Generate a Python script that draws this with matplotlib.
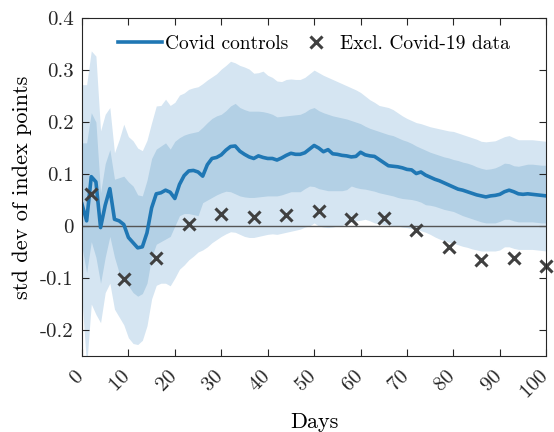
import numpy as np
import matplotlib
matplotlib.use('Agg')
import matplotlib.pyplot as plt
import matplotlib.transforms as mtransforms

plt.rcParams['font.family'] = ['cmr10', 'DejaVu Serif']
plt.rcParams['axes.formatter.use_mathtext'] = True
plt.rcParams['axes.unicode_minus'] = False

# ---- data ----
days = np.arange(0, 101)

mid = [0.042, 0.010, 0.095, 0.085, -0.003, 0.040, 0.072, 0.013, 0.010, 0.003,
       -0.022, -0.032, -0.042, -0.040, -0.013, 0.035, 0.062, 0.064, 0.069, 0.065,
       0.053, 0.080, 0.097, 0.106, 0.107, 0.104, 0.096, 0.118, 0.130, 0.132,
       0.137, 0.146, 0.153, 0.154, 0.144, 0.138, 0.133, 0.130, 0.135, 0.132,
       0.130, 0.130, 0.127, 0.131, 0.136, 0.140, 0.138, 0.138, 0.141, 0.148,
       0.155, 0.150, 0.143, 0.147, 0.139, 0.138, 0.136, 0.135, 0.133, 0.134,
       0.142, 0.137, 0.135, 0.134, 0.128, 0.122, 0.116, 0.115, 0.114, 0.112,
       0.109, 0.108, 0.101, 0.104, 0.098, 0.094, 0.090, 0.087, 0.083, 0.079,
       0.075, 0.071, 0.069, 0.066, 0.063, 0.060, 0.058, 0.056, 0.058, 0.059,
       0.061, 0.066, 0.069, 0.066, 0.062, 0.061, 0.062, 0.061, 0.060, 0.059,
       0.058]

upper90 = [0.272, 0.272, 0.337, 0.327, 0.183, 0.215, 0.228, 0.141, 0.166, 0.196,
           0.172, 0.164, 0.150, 0.145, 0.165, 0.199, 0.231, 0.232, 0.244, 0.232,
           0.238, 0.252, 0.256, 0.263, 0.266, 0.268, 0.274, 0.281, 0.287, 0.293,
           0.302, 0.309, 0.317, 0.314, 0.309, 0.306, 0.302, 0.294, 0.295, 0.298,
           0.290, 0.286, 0.279, 0.278, 0.282, 0.283, 0.282, 0.282, 0.286, 0.293,
           0.300, 0.295, 0.290, 0.286, 0.282, 0.278, 0.274, 0.270, 0.266, 0.262,
           0.257, 0.250, 0.243, 0.238, 0.232, 0.230, 0.228, 0.224, 0.218, 0.212,
           0.207, 0.203, 0.199, 0.197, 0.194, 0.191, 0.189, 0.187, 0.185, 0.183,
           0.182, 0.179, 0.176, 0.173, 0.170, 0.167, 0.163, 0.162, 0.163, 0.164,
           0.168, 0.172, 0.174, 0.170, 0.166, 0.166, 0.166, 0.166, 0.165, 0.164,
           0.163]

upper68 = [0.160, 0.160, 0.218, 0.200, 0.064, 0.120, 0.147, 0.090, 0.093, 0.096,
           0.085, 0.077, 0.060, 0.058, 0.088, 0.130, 0.148, 0.154, 0.160, 0.148,
           0.163, 0.170, 0.175, 0.178, 0.180, 0.182, 0.190, 0.199, 0.207, 0.212,
           0.215, 0.222, 0.231, 0.236, 0.228, 0.224, 0.221, 0.221, 0.221, 0.220,
           0.218, 0.215, 0.210, 0.211, 0.212, 0.213, 0.214, 0.215, 0.219, 0.225,
           0.228, 0.222, 0.218, 0.215, 0.212, 0.210, 0.208, 0.206, 0.203, 0.200,
           0.197, 0.192, 0.188, 0.185, 0.182, 0.179, 0.176, 0.174, 0.170, 0.166,
           0.163, 0.159, 0.154, 0.150, 0.146, 0.142, 0.139, 0.136, 0.133, 0.131,
           0.128, 0.126, 0.123, 0.121, 0.118, 0.114, 0.111, 0.109, 0.110, 0.112,
           0.116, 0.121, 0.120, 0.116, 0.115, 0.117, 0.119, 0.119, 0.118, 0.117,
           0.117]

lower68 = [-0.040, -0.090, -0.030, -0.060, -0.110, -0.060, -0.020, -0.060, -0.090, -0.100,
           -0.115, -0.128, -0.135, -0.130, -0.110, -0.060, -0.035, -0.030, -0.025, -0.020,
           0.000, 0.020, 0.024, 0.024, 0.022, 0.020, 0.045, 0.050, 0.055, 0.060,
           0.064, 0.067, 0.066, 0.062, 0.058, 0.056, 0.055, 0.055, 0.056, 0.057,
           0.058, 0.058, 0.058, 0.060, 0.063, 0.066, 0.066, 0.066, 0.072, 0.077,
           0.076, 0.072, 0.070, 0.068, 0.068, 0.068, 0.068, 0.070, 0.077, 0.074,
           0.072, 0.071, 0.069, 0.067, 0.064, 0.062, 0.060, 0.058, 0.055, 0.053,
           0.052, 0.051, 0.049, 0.046, 0.041, 0.040, 0.038, 0.035, 0.032, 0.030,
           0.028, 0.024, 0.020, 0.017, 0.014, 0.011, 0.008, 0.006, 0.006, 0.006,
           0.009, 0.013, 0.013, 0.010, 0.008, 0.008, 0.008, 0.008, 0.007, 0.006,
           0.006]

lower90 = [-0.140, -0.270, -0.150, -0.170, -0.186, -0.128, -0.110, -0.160, -0.175, -0.190,
           -0.215, -0.226, -0.228, -0.220, -0.192, -0.140, -0.114, -0.110, -0.110, -0.115,
           -0.100, -0.083, -0.075, -0.065, -0.058, -0.050, -0.046, -0.040, -0.032, -0.026,
           -0.020, -0.015, -0.011, -0.012, -0.016, -0.020, -0.022, -0.022, -0.020, -0.018,
           -0.016, -0.015, -0.016, -0.014, -0.012, -0.010, -0.008, -0.006, -0.002, 0.000,
           0.006, 0.000, -0.002, -0.003, -0.002, 0.000, 0.001, 0.004, 0.008, 0.010,
           0.011, 0.013, 0.010, 0.006, 0.004, 0.003, 0.002, 0.001, 0.000, -0.002,
           -0.003, -0.005, -0.006, -0.009, -0.012, -0.016, -0.021, -0.025, -0.028, -0.031,
           -0.033, -0.036, -0.039, -0.041, -0.044, -0.046, -0.048, -0.048, -0.048, -0.048,
           -0.046, -0.040, -0.040, -0.043, -0.045, -0.045, -0.045, -0.045, -0.046, -0.047,
           -0.048]

excl_days = [2, 9, 16, 23, 30, 37, 44, 51, 58, 65, 72, 79, 86, 93, 100]
excl_vals = [0.062, -0.102, -0.062, 0.003, 0.024, 0.018, 0.022, 0.029, 0.014, 0.016,
             -0.008, -0.040, -0.066, -0.061, -0.077]

xticks = list(range(0, 101, 10))
yticks = [-0.2, -0.1, 0, 0.1, 0.2, 0.3, 0.4]
ytick_labels = ['-0.2', '-0.1', '0', '0.1', '0.2', '0.3', '0.4']

# ---- plot ----
fig = plt.figure(figsize=(5.54, 4.32), dpi=100)
ax = fig.add_axes([0.148, 0.176, 0.838, 0.782])
fs = 15

ax.fill_between(days, lower90, upper90, color='#d5e5f2', lw=0)
ax.fill_between(days, lower68, upper68, color='#b3d0e5', lw=0)
ax.axhline(0, color='#555555', lw=1.0)
ax.plot(days, mid, color='#1f77b4', lw=2.6, label='Covid controls')
ax.plot(excl_days, excl_vals, ls='none', marker='x', ms=9, mew=2.2,
        color='#404040', label='Excl. Covid-19 data', clip_on=False)

ax.set_xlim(0, 100)
ax.set_ylim(-0.25, 0.4)
ax.set_xticks(xticks)
ax.set_yticks(yticks)
ax.set_yticklabels(ytick_labels)
ax.tick_params(direction='in', top=True, right=True, length=5, width=0.8,
               labelsize=fs, colors='#262626')
ax.tick_params(axis='x', pad=8)
ax.tick_params(axis='y', pad=6)
offset = mtransforms.ScaledTranslation(6/100, 0, fig.dpi_scale_trans)
for lab in ax.get_xticklabels():
    lab.set_rotation(45)
    lab.set_ha('right')
    lab.set_transform(lab.get_transform() + offset)
for sp in ax.spines.values():
    sp.set_color('#262626')
    sp.set_linewidth(0.8)

ax.set_xlabel('Days', fontsize=16, labelpad=7)
ax.set_ylabel('std dev of index points', fontsize=16, labelpad=6)
ax.legend(loc='upper center', ncol=2, frameon=False, fontsize=14,
          handlelength=2.25, handletextpad=0.15, columnspacing=0.3,
          borderaxespad=0.45)

fig.savefig('out.png', dpi=100)
